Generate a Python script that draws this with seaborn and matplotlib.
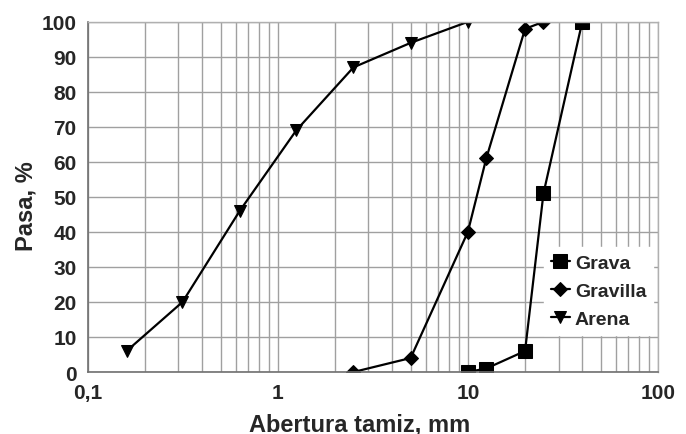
import matplotlib
matplotlib.use("Agg")
import matplotlib.pyplot as plt
import seaborn as sns
import pandas as pd
import numpy as np
from matplotlib.ticker import FixedLocator, LogLocator, NullFormatter

# Data
grava_x = [10, 12.5, 20, 25, 40]
grava_y = [0, 1, 6, 51, 100]
gravilla_x = [2.5, 5, 10, 12.5, 20, 25]
gravilla_y = [0, 4, 40, 61, 98, 100]
arena_x = [0.16, 0.315, 0.63, 1.25, 2.5, 5, 10]
arena_y = [6, 20, 46, 69, 87, 94, 100]
series_names = ["Grava", "Gravilla", "Arena"]
x_ticks = [0.1, 1, 10, 100]
x_tick_labels = ["0,1", "1", "10", "100"]
y_ticks = list(range(0, 101, 10))

df = pd.concat([
    pd.DataFrame({"x": grava_x, "y": grava_y, "serie": "Grava"}),
    pd.DataFrame({"x": gravilla_x, "y": gravilla_y, "serie": "Gravilla"}),
    pd.DataFrame({"x": arena_x, "y": arena_y, "serie": "Arena"}),
], ignore_index=True)

sns.set_style("white")
plt.rcParams["font.family"] = ["Liberation Sans", "DejaVu Sans"]
plt.rcParams["font.weight"] = "bold"

fig = plt.figure(figsize=(6.86, 4.35), dpi=100)
ax = fig.add_axes([0.128, 0.1425, 0.831, 0.805])

markers = {"Grava": "s", "Gravilla": "D", "Arena": "v"}
sizes_ms = {"Grava": 9.5, "Gravilla": 7, "Arena": 9}
for name in series_names:
    sub = df[df["serie"] == name]
    sns.lineplot(data=sub, x="x", y="y", ax=ax, color="black", linewidth=1.6,
                 marker=markers[name], markersize=sizes_ms[name],
                 markeredgecolor="black", markerfacecolor="black",
                 label=name, sort=False, estimator=None)

ax.set_xscale("log")
ax.set_xlim(0.1, 100)
ax.set_ylim(0, 100)
ax.xaxis.set_major_locator(FixedLocator(x_ticks))
ax.set_xticklabels(x_tick_labels)
ax.xaxis.set_minor_locator(LogLocator(base=10, subs=np.arange(2, 10)))
ax.xaxis.set_minor_formatter(NullFormatter())
ax.set_yticks(y_ticks)

ax.grid(True, which="major", color="#a0a0a0", linewidth=1.0)
ax.grid(True, which="minor", axis="x", color="#a0a0a0", linewidth=1.0)
ax.set_axisbelow(True)

for side in ["top", "right"]:
    ax.spines[side].set_color("#b0b0b0")
    ax.spines[side].set_linewidth(1.0)
for side in ["left", "bottom"]:
    ax.spines[side].set_color("#707070")
    ax.spines[side].set_linewidth(1.2)

ax.tick_params(axis="both", which="major", length=4, width=1, color="#707070",
               labelsize=15, direction="out", pad=4)
ax.tick_params(axis="x", which="minor", length=3, width=0.8, color="#707070",
               direction="out")
for lab in ax.get_xticklabels() + ax.get_yticklabels():
    lab.set_fontweight("bold")

ax.set_xlabel("Abertura tamiz, mm", fontsize=17, fontweight="bold")
ax.set_ylabel("Pasa, %", fontsize=17, fontweight="bold")
ax.xaxis.set_label_coords(0.477, -0.115)
ax.yaxis.set_label_coords(-0.088, 0.477)

leg = ax.legend(loc="center right", bbox_to_anchor=(0.992, 0.231), frameon=True,
                fancybox=False, framealpha=1.0, edgecolor="white",
                prop={"weight": "bold", "size": 14}, handlelength=1.0,
                handletextpad=0.25, labelspacing=0.55, borderpad=0.35,
                borderaxespad=0.0)

fig.savefig("out.png", dpi=100)
